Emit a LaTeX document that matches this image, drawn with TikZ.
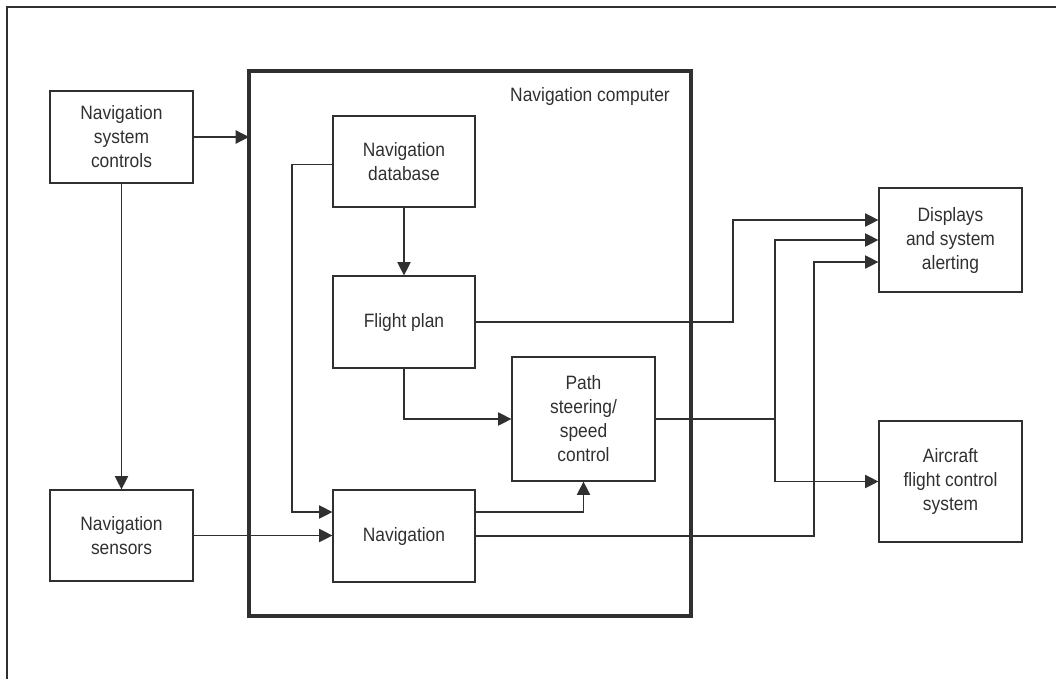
\documentclass[tikz,border=0pt]{standalone}
\usepackage{fontspec}
\setmainfont{Liberation Sans}[FakeStretch=0.9]
\usetikzlibrary{arrows.meta}
\definecolor{ink}{HTML}{303030}
\tikzset{
  box/.style={draw=ink, line width=0.9pt, text=ink, align=center, inner sep=0pt,
    font=\fontsize{14.5pt}{18pt}\selectfont},
  conn/.style={draw=ink, line width=0.9pt},
  arr/.style={conn, -{Triangle[length=10pt,width=10pt]}},
  label/.style={text=ink, inner sep=0pt, font=\fontsize{14.5pt}{18pt}\selectfont}
}
\begin{document}
\begin{tikzpicture}[x=0.75pt,y=-0.75pt]
\useasboundingbox (0,0) rectangle (1056,679);
% outer frame (top and left edges only)
\draw[ink, line width=1.5pt] (1056,7) -- (7,7) -- (7,679);
% navigation computer
\draw[ink, line width=2.4pt] (249,71) rectangle (691,616);
\node[label] (nclabel) at (590,96) {Navigation computer};
\coordinate (ncw) at (249,300);
\coordinate (jfp) at (733,0);
\coordinate (jpath) at (775,0);
\coordinate (jnav) at (814,0);
% boxes
\node[box, minimum width=107.25pt, minimum height=69pt] (ctrl) at (121.5,137) {Navigation\\system\\controls};
\node[box, minimum width=107.25pt, minimum height=68.25pt] (sens) at (121.5,535.5) {Navigation\\sensors};
\node[box, minimum width=106.5pt, minimum height=68.25pt] (db) at (404,161.5) {Navigation\\database};
\node[box, minimum width=106.5pt, minimum height=69pt] (fp) at (404,322) {Flight plan};
\node[box, minimum width=106.5pt, minimum height=69pt] (nav) at (404,536) {Navigation};
\node[box, minimum width=107.25pt, minimum height=93pt] (path) at (583.5,419) {Path\\steering/\\speed\\control};
\node[box, minimum width=107.25pt, minimum height=78pt] (disp) at (950.5,240) {Displays\\and system\\alerting};
\node[box, minimum width=107.25pt, minimum height=90.75pt] (acft) at (950.5,481.5) {Aircraft\\flight control\\system};
\coordinate (dispA) at ([yshift=15pt]disp.west);
\coordinate (dispC) at ([yshift=-16.5pt]disp.west);
\coordinate (navA) at ([yshift=18pt]nav.west);
\coordinate (navB) at ([yshift=18pt]nav.east);
\coordinate (dbA) at ([yshift=-2.5pt]db.west);
% connectors
\draw[arr] (ctrl.east) -- (ctrl.east -| ncw);
\draw[arr] (ctrl.south) -- (sens.north);
\draw[arr] (db.south) -- (fp.north);
\draw[arr] (dbA) -| (292,512) -- (navA);
\draw[arr] (sens.east) -- (sens.east -| nav.west);
\draw[arr] (fp.south) |- (path.west);
\draw[arr] (navB) -| (path.south);
\draw[arr] (fp.east) -| (jfp |- dispA) -- (dispA);
\draw[arr] (path.east) -| (jpath |- disp.west) -- (disp.west);
\draw[arr] (path.east) -| (jpath |- acft.west) -- (acft.west);
\draw[arr] (nav.east) -| (jnav |- dispC) -- (dispC);
\end{tikzpicture}
\end{document}
